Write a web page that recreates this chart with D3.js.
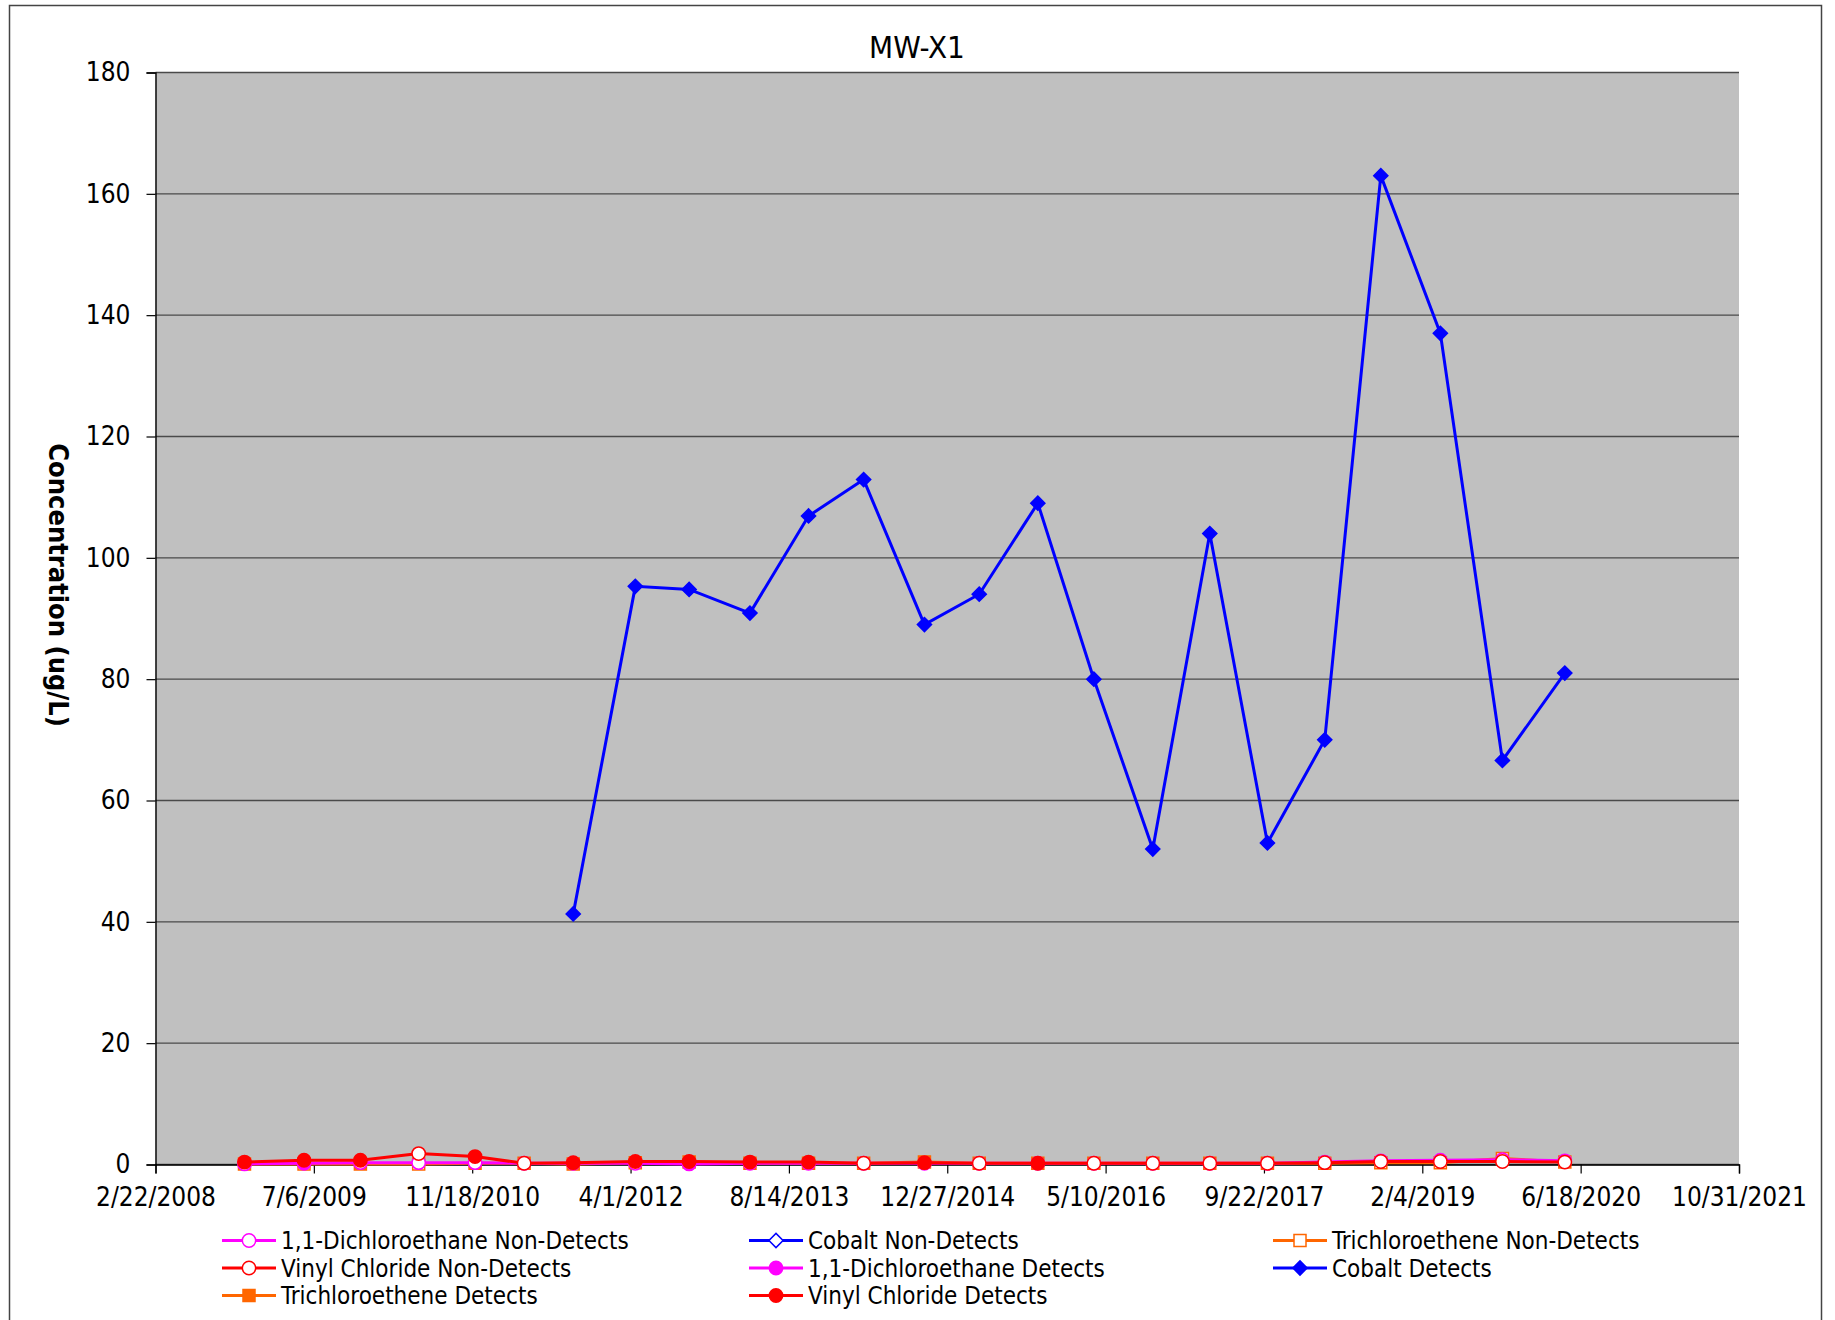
<!DOCTYPE html>
<html>
<head>
<meta charset="utf-8">
<script src="https://cdn.jsdelivr.net/npm/d3@7"></script>
<style>
  body { margin: 0; background: #fff; }
  text { font-family: "DejaVu Sans Condensed", "DejaVu Sans", sans-serif; font-stretch: condensed; fill: #000; }
</style>
</head>
<body>
<div id="chart"></div>
<script>
const chartWidth = 1835, chartHeight = 1320;

// sampling dates (shared by every compound)
const sampleDates = [
  "2008-11-29", "2009-06-05", "2009-11-30", "2010-06-02", "2010-11-27", "2011-05-01",
  "2011-10-03", "2012-04-16", "2012-10-03", "2013-04-13", "2013-10-15", "2014-04-07",
  "2014-10-16", "2015-04-07", "2015-10-09", "2016-04-03", "2016-10-06", "2017-04-04",
  "2017-10-03", "2018-04-02", "2018-09-26", "2019-04-02", "2019-10-15", "2020-04-29"
];

const dcaValues    = [0.1, 0.2, 0.3, 0.3, 0.3, 0.2, 0.2, 0.2, 0.1, 0.2, 0.2, 0.2, 0.2, 0.2, 0.2, 0.2, 0.2, 0.2, 0.2, 0.4, 0.6, 0.7, 0.8, 0.6];
const dcaDetect    = [0, 1, 0, 0, 0, 0, 0, 0, 1, 0, 0, 0, 0, 0, 0, 0, 0, 0, 0, 0, 0, 0, 0, 0];
const cobaltValues = [null, null, null, null, null, null, 41.3, 95.3, 94.8, 90.9, 106.9, 112.9, 89, 94, 109, 80, 52, 104, 53, 70, 163, 137, 66.6, 81];
const cobaltDetect = [0, 0, 0, 0, 0, 0, 1, 1, 1, 1, 1, 1, 1, 1, 1, 1, 1, 1, 1, 1, 1, 1, 1, 1];
const tceValues    = [0.1, 0.1, 0.1, 0.1, 0.2, 0.2, 0.1, 0.3, 0.4, 0.2, 0.2, 0.2, 0.4, 0.2, 0.2, 0.2, 0.2, 0.2, 0.2, 0.2, 0.3, 0.3, 1.0, 0.4];
const tceDetect    = [1, 0, 1, 0, 1, 0, 1, 1, 1, 1, 1, 0, 1, 0, 1, 0, 0, 0, 0, 0, 0, 0, 0, 0];
const vcValues     = [0.4, 0.7, 0.7, 1.8, 1.3, 0.2, 0.3, 0.5, 0.5, 0.4, 0.4, 0.2, 0.3, 0.2, 0.2, 0.2, 0.2, 0.2, 0.2, 0.3, 0.5, 0.5, 0.5, 0.4];
const vcDetect     = [1, 1, 1, 0, 1, 0, 1, 1, 1, 1, 1, 0, 1, 0, 1, 0, 0, 0, 0, 0, 0, 0, 0, 0];

const xTickLabels = ["2/22/2008", "7/6/2009", "11/18/2010", "4/1/2012", "8/14/2013", "12/27/2014",
  "5/10/2016", "9/22/2017", "2/4/2019", "6/18/2020", "10/31/2021"];
const yTicks = [0, 20, 40, 60, 80, 100, 120, 140, 160, 180];

const legendNames = [
  "1,1-Dichloroethane Non-Detects", "Cobalt Non-Detects", "Trichloroethene Non-Detects",
  "Vinyl Chloride Non-Detects", "1,1-Dichloroethane Detects", "Cobalt Detects",
  "Trichloroethene Detects", "Vinyl Chloride Detects"
];

const parseIso = d3.utcParse("%Y-%m-%d");
const parseTick = d3.utcParse("%m/%d/%Y");

// compound, colour, marker shape
const compounds = [
  {name: "tce", values: tceValues, detect: tceDetect, color: "#FF6600", shape: "square"},
  {name: "dca", values: dcaValues, detect: dcaDetect, color: "#FF00FF", shape: "circle"},
  {name: "cobalt", values: cobaltValues, detect: cobaltDetect, color: "#0000FF", shape: "diamond"},
  {name: "vc", values: vcValues, detect: vcDetect, color: "#FF0000", shape: "circle"}
];
const legendStyle = [
  {color: "#FF00FF", shape: "circle", filled: false},
  {color: "#0000FF", shape: "diamond", filled: false},
  {color: "#FF6600", shape: "square", filled: false},
  {color: "#FF0000", shape: "circle", filled: false},
  {color: "#FF00FF", shape: "circle", filled: true},
  {color: "#0000FF", shape: "diamond", filled: true},
  {color: "#FF6600", shape: "square", filled: true},
  {color: "#FF0000", shape: "circle", filled: true}
];

const plot = {left: 155.5, right: 1739, top: 72.5, bottom: 1164.5};

const svg = d3.select("#chart")
    .append("svg")
    .attr("width", chartWidth)
    .attr("height", chartHeight);

// outer frame
svg.append("rect")
    .attr("x", 9.5).attr("y", 5.5)
    .attr("width", 1812).attr("height", 1330)
    .style("fill", "none")
    .style("stroke", "#444")
    .style("stroke-width", 1.5);

const xTickDates = xTickLabels.map(parseTick);
const x = d3.scaleUtc()
    .domain([xTickDates[0], xTickDates[xTickDates.length - 1]])
    .range([plot.left, plot.right]);
const y = d3.scaleLinear()
    .domain([0, 180])
    .range([plot.bottom, plot.top]);

svg.append("rect")
    .attr("x", plot.left).attr("y", plot.top)
    .attr("width", plot.right - plot.left).attr("height", plot.bottom - plot.top)
    .style("fill", "#C0C0C0");

// gridlines
svg.append("g")
    .selectAll("line")
    .data(yTicks)
    .enter().append("line")
    .attr("x1", plot.left).attr("x2", plot.right)
    .attr("y1", d => y(d)).attr("y2", d => y(d))
    .style("stroke", "#4a4a4a")
    .style("stroke-width", 1.4);

// y axis
const yAxis = svg.append("g")
    .attr("transform", `translate(${plot.left},0)`)
    .call(d3.axisLeft(y).tickValues(yTicks).tickSize(9).tickPadding(16));
yAxis.select(".domain").style("stroke", "#000").style("stroke-width", 1.4);
yAxis.selectAll(".tick line").style("stroke", "#000").style("stroke-width", 1.2);
yAxis.selectAll("text").style("font-size", "26px");

// x axis
const xAxis = svg.append("g")
    .attr("transform", `translate(0,${plot.bottom})`)
    .call(d3.axisBottom(x).tickValues(xTickDates).tickFormat((d, i) => xTickLabels[i]).tickSize(9).tickPadding(14));
xAxis.select(".domain").style("stroke", "#000").style("stroke-width", 1.4);
xAxis.selectAll(".tick line").style("stroke", "#000").style("stroke-width", 1.2);
xAxis.selectAll("text").style("font-size", "26px");

function markerPath(shape, scale = 1) {
    if (shape === "circle") return d3.symbol(d3.symbolCircle, 140 * scale)();
    if (shape === "square") return d3.symbol(d3.symbolSquare, 144 * scale)();
    return d3.symbol(d3.symbolSquare, 100 * scale)();
}

const line = d3.line()
    .defined(d => d.value != null)
    .x(d => x(d.date))
    .y(d => y(d.value));

compounds.forEach(c => {
    const pts = sampleDates.map((d, i) => ({date: parseIso(d), value: c.values[i], detect: c.detect[i]}));
    const g = svg.append("g").attr("id", c.name);
    g.append("path")
        .datum(pts)
        .attr("d", line)
        .style("fill", "none")
        .style("stroke", c.color)
        .style("stroke-width", 3);
    g.selectAll(".marker")
        .data(pts.filter(p => p.value != null))
        .enter().append("path")
        .attr("class", "marker")
        .attr("d", markerPath(c.shape))
        .attr("transform", p => `translate(${x(p.date)},${y(p.value)})` + (c.shape === "diamond" ? " rotate(45)" : ""))
        .style("fill", p => p.detect ? c.color : "#fff")
        .style("stroke", c.color)
        .style("stroke-width", 1.5);
});

// title and axis label
svg.append("text")
    .attr("x", 917).attr("y", 58)
    .attr("text-anchor", "middle")
    .style("font-size", "31px")
    .text("MW-X1");

svg.append("text")
    .attr("transform", "translate(58,585) rotate(90)")
    .attr("text-anchor", "middle")
    .attr("dy", "0.35em")
    .style("font-size", "27px")
    .style("font-weight", "bold")
    .text("Concentration (ug/L)");

// legend
const legendCols = [222, 749, 1273];
const legendRows = [1240.5, 1268, 1295.5];
const legend = svg.append("g").attr("id", "legend")
    .selectAll("g")
    .data(legendNames)
    .enter().append("g")
    .attr("transform", (d, i) => `translate(${legendCols[i % 3]},${legendRows[Math.floor(i / 3)]})`);
legend.append("line")
    .attr("x1", 0).attr("x2", 54)
    .style("stroke", (d, i) => legendStyle[i].color)
    .style("stroke-width", 3);
legend.append("path")
    .attr("d", (d, i) => markerPath(legendStyle[i].shape))
    .attr("transform", (d, i) => "translate(27,0)" + (legendStyle[i].shape === "diamond" ? " rotate(45)" : ""))
    .style("fill", (d, i) => legendStyle[i].filled ? legendStyle[i].color : "#fff")
    .style("stroke", (d, i) => legendStyle[i].color)
    .style("stroke-width", 1.5);
legend.append("text")
    .attr("x", 59)
    .attr("dy", "0.36em")
    .style("font-size", "24px")
    .text(d => d);
</script>
</body>
</html>
